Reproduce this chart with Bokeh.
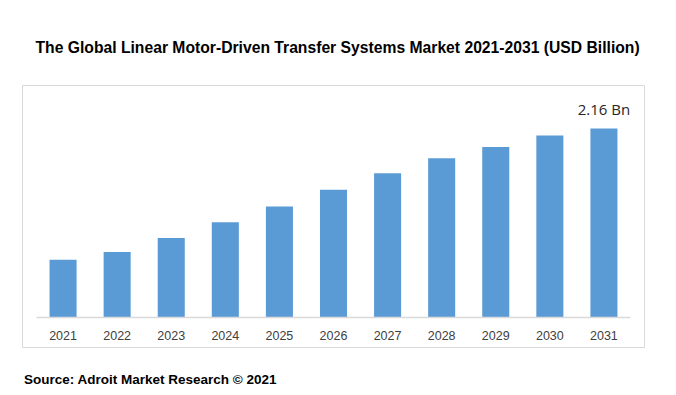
from bokeh.plotting import figure
from bokeh.models import Range1d, FixedTicker, Div
from bokeh.layouts import column
from bokeh.core.properties import value
from bokeh.embed import file_html
from bokeh.resources import INLINE

years = ["2021", "2022", "2023", "2024", "2025", "2026", "2027", "2028", "2029", "2030", "2031"]
market = [0.66, 0.75, 0.91, 1.09, 1.27, 1.46, 1.65, 1.82, 1.95, 2.08, 2.16]
last_label = "2.16 Bn"
title_text = "The Global Linear Motor-Driven Transfer Systems Market 2021-2031 (USD Billion)"
source_text = "Source: Adroit Market Research \u00a9 2021"

xs = list(range(len(years)))

# vertical scale: tallest bar 189 px high
per_px = market[-1] / 189.0
y0 = -30 * per_px
y1 = 232 * per_px

p = figure(width=668, height=350,
           x_range=Range1d(-0.75, len(years) - 0.25),
           y_range=Range1d(y0, y1),
           output_backend="svg", toolbar_location=None,
           y_axis_location=None,
           min_border_left=22, min_border_right=24,
           min_border_top=85, min_border_bottom=3)

p.background_fill_color = "white"
p.border_fill_color = "white"
p.outline_line_color = "#d9d9d9"
p.outline_line_width = 1
p.grid.visible = False

p.vbar(x=xs, top=market, width=0.5, bottom=0, fill_color="#5b9bd5", line_color=None)

p.text(x=[xs[-1]], y=[market[-1]], text=[last_label],
       text_font=value("Open Sans"), text_font_size="15px",
       text_color="#262626", text_align="center", text_baseline="bottom",
       y_offset=-10)

ax = p.xaxis[0]
ax.fixed_location = 0
ax.bounds = (-0.5, len(years) - 0.5)
ax.ticker = FixedTicker(ticks=xs)
ax.major_label_overrides = {i: y for i, y in zip(xs, years)}
ax.major_tick_line_color = None
ax.minor_tick_line_color = None
ax.axis_line_color = "#d9d9d9"
ax.axis_line_width = 1.5
ax.major_label_text_font = "Liberation Sans"
ax.major_label_text_font_size = "12.5px"
ax.major_label_text_color = "#404040"
ax.major_label_standoff = 7

p.title.text = title_text
p.title.align = "left"
p.title.offset = 13
p.title.text_font = "Liberation Sans"
p.title.text_font_size = "15.7px"
p.title.text_font_style = "bold"
p.title.text_color = "black"
p.title.standoff = 59

src = Div(text=('<div style="position:absolute; left:24px; top:22px; white-space:nowrap; '
                'font-family:\'Liberation Sans\'; font-size:13.5px; font-weight:bold; '
                'color:black; line-height:16px;">' + source_text + '</div>'),
          width=668, height=45, margin=(0, 0, 0, 0))

layout = column(p, src, spacing=0, margin=(0, 0, 0, 0))

open("out.html", "w").write(file_html(layout, INLINE))
